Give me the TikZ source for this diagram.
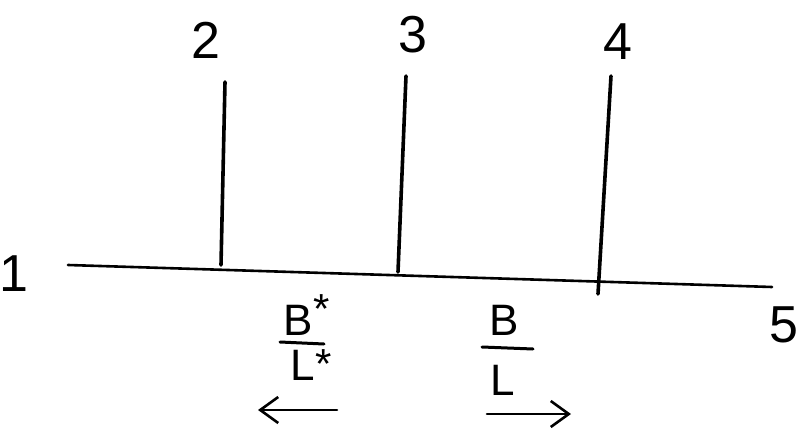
\documentclass[tikz,border=0pt]{standalone}
\usepackage{fontspec}
\setmainfont{Liberation Sans}
\usetikzlibrary{arrows.meta}

\tikzset{
  stroke/.style={line width=3.6pt, line cap=round},
  axis/.style={line width=2.6pt, line cap=round},
  lbl/.style={font=\fontsize{52}{56}\selectfont, inner sep=0pt},
  frac/.style={font=\fontsize{44}{46}\selectfont, inner sep=0pt},
  bar/.style={line width=3pt, line cap=round},
  dir/.style={line width=2.6pt, line cap=round, -{Straight Barb[length=18pt,width=26pt,line width=2.6pt]}}
}
\newcommand{\optstar}[1]{\kern1pt\raisebox{#1}{\fontsize{42}{42}\selectfont *}}

\begin{document}
\begin{tikzpicture}[x=1pt, y=-1pt]
      \useasboundingbox (0,0) rectangle (807,434);
      % base line and the three uprights
      \coordinate (left) at (68,265);
      \coordinate (right) at (772,287);
      \draw[axis] (left) -- (right);
      \coordinate (top2) at (225,82);  \coordinate (foot2) at (221,265);
      \coordinate (top3) at (406,76);  \coordinate (foot3) at (398,272);
      \coordinate (top4) at (611,76);  \coordinate (foot4) at (598,294);
      \draw[stroke] (top2) -- (foot2);
      \draw[stroke] (top3) -- (foot3);
      \draw[stroke] (top4) -- (foot4);
      \node[lbl] (n1) at (14,274) {1};
      \node[lbl] (n2) at (206,40) {2};
      \node[lbl] (n3) at (413,35) {3};
      \node[lbl] (n4) at (618,42) {4};
      \node[lbl] (n5) at (784,325) {5};
      % ratio with stars, pointing left
      \node[frac, anchor=base west] (bstar) at (283,335) {B\optstar{12pt}};
      \node[frac, anchor=base west] (lstar) at (290,380) {L\optstar{2pt}};
      \coordinate (barl1) at (280,342); \coordinate (barr1) at (324,344);
      \draw[bar] (barl1) -- (barr1);
      \coordinate (ls) at (337,410); \coordinate (le) at (258,410);
      \draw[dir] (ls) -- (le);
      % plain ratio, pointing right
      \node[frac, anchor=base west] (bplain) at (489,335) {B};
      \node[frac, anchor=base west] (lplain) at (490,395) {L};
      \coordinate (barl2) at (482,347); \coordinate (barr2) at (533,349);
      \draw[bar] (barl2) -- (barr2);
      \coordinate (rs) at (487,414); \coordinate (re) at (571,414);
      \draw[dir] (rs) -- (re);
    \end{tikzpicture}
\end{document}
